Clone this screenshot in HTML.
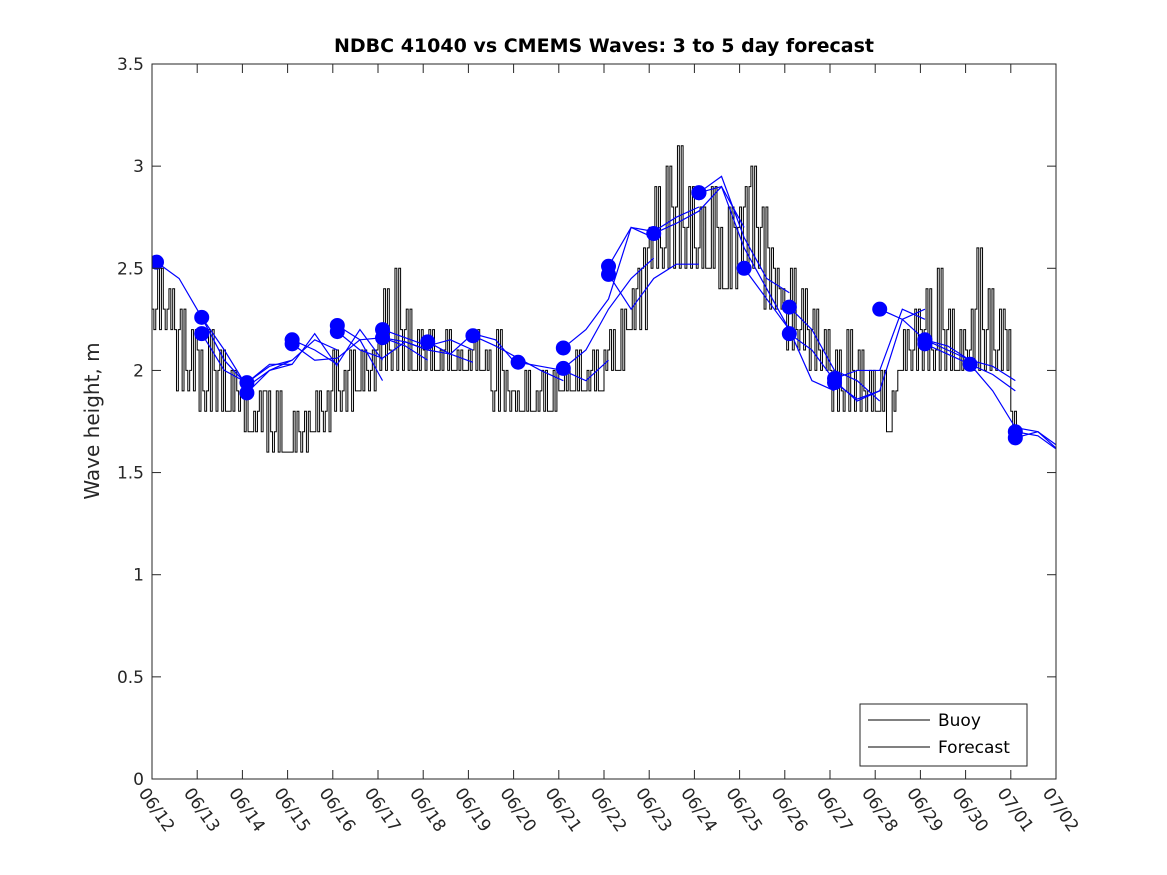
<!DOCTYPE html>
<html><head><meta charset="utf-8"><style>
body{margin:0;background:#fff;}
svg{display:block;font-family:"DejaVu Sans","Liberation Sans",sans-serif;}
</style></head><body>
<svg id="chart" width="1167" height="875">
<rect width="1167" height="875" fill="#fff"/>
<text x="604" y="52" text-anchor="middle" font-size="19" font-weight="bold" fill="#000">NDBC 41040 vs CMEMS Waves: 3 to 5 day forecast</text>
<text transform="translate(99,421) rotate(-90)" text-anchor="middle" font-size="20" fill="#262626">Wave height, m</text>
<defs><clipPath id="pc"><rect x="152" y="64" width="904" height="715"/></clipPath></defs>
<g id="buoy" clip-path="url(#pc)"></g>
<g id="fc" clip-path="url(#pc)"></g>
<g id="axes"></g>
<g>
<rect x="860" y="704" width="167" height="62" fill="#fff" stroke="#262626" stroke-width="1"/>
<line x1="868" y1="720" x2="930" y2="720" stroke="#000"/>
<text x="938" y="726" font-size="17" fill="#000">Buoy</text>
<line x1="868" y1="747" x2="930" y2="747" stroke="#000"/>
<text x="938" y="753" font-size="17" fill="#000">Forecast</text>
</g>
</svg>
<script>
const xTickLabels=["06/12","06/13","06/14","06/15","06/16","06/17","06/18","06/19","06/20","06/21","06/22","06/23","06/24","06/25","06/26","06/27","06/28","06/29","06/30","07/01","07/02"];
const yTicks=[0,0.5,1,1.5,2,2.5,3,3.5];
const yTickLabels=["0","0.5","1","1.5","2","2.5","3","3.5"];
const buoyStep=0.125;
const buoyValues=[
2.3,2.5,2.3,2.4,2.2,2.3,2.0,2.2,
2.1,1.9,2.2,2.0,2.1,1.8,2.0,1.9,
1.9,1.7,1.8,1.9,1.9,1.7,1.9,1.6,
1.6,1.8,1.7,1.8,1.7,1.9,1.8,1.9,
2.1,1.9,2.0,2.1,1.9,2.1,2.0,2.1,
2.2,2.4,2.1,2.5,2.2,2.3,2.0,2.2,
2.1,2.2,2.0,2.1,2.2,2.0,2.1,2.0,
2.1,2.2,2.0,2.1,1.9,2.2,2.0,1.9,
1.9,1.8,2.0,1.8,1.9,2.0,1.8,2.0,
1.9,2.0,1.9,2.1,1.9,2.0,2.1,1.9,
2.1,2.2,2.0,2.3,2.2,2.4,2.5,2.6,
2.7,2.9,2.6,3.0,2.8,3.1,2.7,2.9,
2.6,2.8,2.5,2.9,2.7,2.4,2.8,2.7,
2.8,2.9,3.0,2.7,2.8,2.6,2.5,2.4,
2.3,2.5,2.2,2.4,2.2,2.3,2.1,2.2,
2.0,2.1,1.9,2.2,2.0,2.1,1.9,2.0,
1.8,2.0,1.7,1.9,2.0,2.2,2.1,2.3,
2.2,2.4,2.1,2.5,2.2,2.3,2.0,2.2,
2.1,2.3,2.6,2.2,2.4,2.1,2.3,2.2,
1.8,1.7];
const buoyLowStep=0.5;
const buoyLow=[2.2,1.9,1.8,1.8,1.7,1.6,1.6,1.7,1.8,1.9,2.0,2.0,2.0,2.0,2.0,1.8,1.8,1.8,1.9,1.9,2.0,2.2,2.5,2.5,2.5,2.4,2.5,2.3,2.1,2.0,1.8,1.8,1.8,2.0,2.0,2.0,2.0,2.0,1.7,1.6];
const fcStarts=[0.1,1.1,1.1,2.1,2.1,3.1,3.1,4.1,4.1,5.1,5.1,6.1,7.1,8.1,9.1,9.1,10.1,10.1,11.1,12.1,12.1,13.1,14.1,14.1,15.1,15.1,16.1,17.1,17.1,18.1,19.1,19.1];
const fcValues=[
[2.53,2.45,2.26,2.05,1.93],[2.26,2.1,1.92,2.0,2.05],[2.18,2.0,1.94,2.03,2.03],
[1.94,2.02,2.05,2.15,2.1],[1.89,2.0,2.03,2.18,2.02],[2.15,2.1,2.03,2.2,2.05],
[2.13,2.05,2.06,2.15,1.95],[2.22,2.15,2.16,2.12,2.05],[2.19,2.1,2.06,2.14,2.1],
[2.2,2.16,2.12,2.15,2.1],[2.16,2.14,2.1,2.08,2.04],[2.14,2.08,2.18,2.15,2.02],
[2.17,2.12,2.06,2.0,1.95],[2.04,2.02,2.0,1.95,2.05],[2.01,2.1,2.3,2.45,2.55],
[2.11,2.2,2.35,2.7,2.65],[2.51,2.7,2.68,2.75,2.8],[2.47,2.3,2.45,2.52,2.52],
[2.67,2.72,2.78,2.9,2.7],[2.87,2.95,2.65,2.45,2.38],[2.87,2.9,2.6,2.4,2.2],
[2.5,2.35,2.2,1.95,1.9],[2.31,2.2,2.0,1.95,1.85],[2.18,2.1,1.95,1.85,1.9],
[1.96,2.0,2.0,2.3,2.25],[1.94,1.86,1.9,2.25,2.3],[2.3,2.25,2.15,2.12,2.05],
[2.15,2.1,2.05,2.02,1.95],[2.13,2.08,2.03,1.98,1.9],[2.03,1.9,1.72,1.7,1.62],
[1.7,1.68,1.6,1.5,1.5],[1.67,1.7,1.6,1.5,1.47]];
const fcStep=0.5;
const X0=152,X1=1056,Y0=779,Y1=64,DAYS=20,YMAX=3.5;
const xs=t=>X0+t*(X1-X0)/DAYS, ys=v=>Y0-v*(Y0-Y1)/YMAX;
const NS="http://www.w3.org/2000/svg";
function mk(tag,attrs,parent){const e=document.createElementNS(NS,tag);for(const k in attrs)e.setAttribute(k,attrs[k]);parent.appendChild(e);return e;}
// buoy: hourly stairs alternating between reading and local low
let d="";const h=buoyStep/3;
buoyValues.forEach((v,i)=>{
  const t0=i*buoyStep;
  const lo=Math.min(v,buoyLow[Math.min(buoyLow.length-1,Math.floor(t0/buoyLowStep))]);
  const seq=[v,lo,v];
  seq.forEach((s,j)=>{
    const x=xs(t0+j*h),y=ys(s);
    d+=(d?"L":"M")+x+","+y+"L"+xs(t0+(j+1)*h)+","+y;
  });
});
const bp=mk("path",{d:d,fill:"none",stroke:"#000","stroke-width":1},document.getElementById("buoy"));


const fg=document.getElementById("fc");
fcValues.forEach((arr,k)=>{
  const pts=arr.map((v,i)=>xs(fcStarts[k]+i*fcStep)+","+ys(v)).join(" ");
  const pl=mk("polyline",{points:pts,fill:"none",stroke:"#0000ff","stroke-width":1.2},fg);
  
  
});
fcValues.forEach((arr,k)=>{
  const c=mk("ellipse",{cx:xs(fcStarts[k]),cy:ys(arr[0]),rx:7.5,ry:7.5,fill:"#0000ff"},fg);
  
  
});
const ax=document.getElementById("axes");
const box=mk("rect",{x:X0,y:Y1,width:X1-X0,height:Y0-Y1,fill:"none",stroke:"#262626","stroke-width":1},ax);


yTicks.forEach((v,i)=>{
  const y=ys(v);
  mk("line",{x1:X0,y1:y,x2:X0+9,y2:y,stroke:"#262626"},ax);
  mk("line",{x1:X1,y1:y,x2:X1-9,y2:y,stroke:"#262626"},ax);
  const t=mk("text",{x:X0-8,y:y+6,"text-anchor":"end","font-size":17,fill:"#262626"},ax);
  t.textContent=yTickLabels[i];
  
  
});
xTickLabels.forEach((lab,i)=>{
  const x=xs(i);
  mk("line",{x1:x,y1:Y0,x2:x,y2:Y0-9,stroke:"#262626"},ax);
  mk("line",{x1:x,y1:Y1,x2:x,y2:Y1+9,stroke:"#262626"},ax);
  const t=mk("text",{transform:"translate("+(x-14)+","+(Y0+14)+") rotate(55)","font-size":17,fill:"#262626"},ax);
  t.textContent=lab;
  
  
});
</script>
</body></html>
